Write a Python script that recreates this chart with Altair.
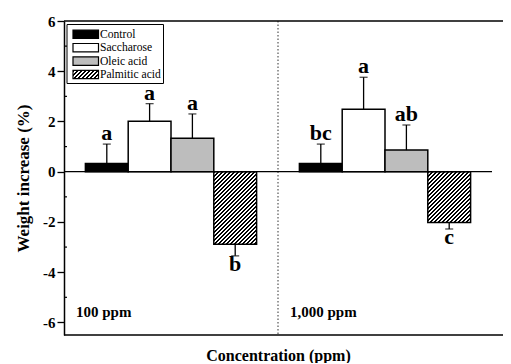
import altair as alt
import pandas as pd

# ---- data ----
concs = ["100 ppm", "1,000 ppm"]
treatments = ["Control", "Saccharose", "Oleic acid", "Palmitic acid"]
values_100 = [0.33, 2.01, 1.33, -2.89]
errors_100 = [0.77, 0.70, 0.97, 0.46]
letters_100 = ["a", "a", "a", "b"]
values_1000 = [0.33, 2.49, 0.86, -2.02]
errors_1000 = [0.77, 1.27, 1.00, 0.26]
letters_1000 = ["bc", "a", "ab", "c"]
y_ticks = [-6, -4, -2, 0, 2, 4, 6]
y_minor = [-5, -3, -1, 1, 3, 5]

rows = []
for conc, vals, errs, lets in [(concs[0], values_100, errors_100, letters_100),
                               (concs[1], values_1000, errors_1000, letters_1000)]:
    for t, v, e, l in zip(treatments, vals, errs, lets):
        rows.append({"conc": conc, "treatment": t, "value": v,
                     "end": v + (e if v >= 0 else -e), "letter": l})
df = pd.DataFrame(rows)

W, H = 428, 314
YDOM = [-6.5, 6]
PX = H / (YDOM[1] - YDOM[0])
FONT = "Liberation Serif"


def hatch(w, h, period=4.0, frac=0.45):
    """45-degree '/' stripes as a sharp-stop linear gradient over a w x h box."""
    k = (w + h) / (w * w + h * h)
    dt = period / (w + h)
    stops = []
    t = 0.0
    while t < 1.0:
        b = min(1.0, t + frac * dt)
        c = min(1.0, t + dt)
        stops += [alt.GradientStop(offset=t, color="black"),
                  alt.GradientStop(offset=b, color="black"),
                  alt.GradientStop(offset=b, color="white"),
                  alt.GradientStop(offset=c, color="white")]
        t += dt
    return alt.LinearGradient(gradient="linear", stops=stops,
                              x1=0, y1=0, x2=w * k, y2=h * k)


xscale = alt.Scale(domain=concs, paddingInner=0, paddingOuter=0)
xoff_scale = alt.Scale(domain=treatments, paddingInner=0, paddingOuter=0.5)
yscale = alt.Scale(domain=YDOM, nice=False, zero=False)
xaxis = alt.Axis(title="Concentration (ppm)", labels=False, ticks=False, domain=False,
                 titleFont=FONT, titleFontSize=16, titleFontWeight="bold",
                 titleColor="black", titlePadding=12)
yaxis = alt.Axis(title="Weight increase (%)", values=y_ticks, labelExpr="'' + datum.value",
                 grid=False, titleFont=FONT, titleFontSize=17, titleFontWeight="bold",
                 titleColor="black", labelFont=FONT, labelFontSize=15,
                 labelFontWeight="bold", labelColor="black", tickSize=7, tickWidth=1.3,
                 tickColor="black", domainColor="black", domainWidth=1.5,
                 labelPadding=2, titlePadding=10)

X = alt.X("conc:N", scale=xscale, axis=xaxis)
XO = alt.XOffset("treatment:N", scale=xoff_scale)

base = alt.Chart(df)

divider = alt.Chart(pd.DataFrame({"conc": [concs[1]]})).mark_rule(
    color="#333333", strokeWidth=1, strokeDash=[1.5, 2]
).encode(x=alt.X("conc:N", scale=xscale, axis=xaxis, bandPosition=0))

bars = base.transform_filter(alt.datum.treatment != treatments[3]).mark_bar(
    stroke="black", strokeWidth=1.5
).encode(
    x=X, xOffset=XO,
    y=alt.Y("value:Q", scale=yscale, axis=yaxis),
    fill=alt.Fill("treatment:N", scale=alt.Scale(domain=treatments,
                  range=["black", "white", "#bdbdbd", "white"]), legend=None),
)

step = W / 2 / 5
hatch_layers = []
for conc, vals in [(concs[0], values_100), (concs[1], values_1000)]:
    v = vals[3]
    g = hatch(step, abs(v) * PX)
    hatch_layers.append(
        base.transform_filter((alt.datum.treatment == treatments[3]) & (alt.datum.conc == conc))
        .mark_bar(fill=g, stroke="black", strokeWidth=1.5)
        .encode(x=X, xOffset=XO, y=alt.Y("value:Q", scale=yscale, axis=yaxis))
    )

zero = alt.Chart(pd.DataFrame({"z": [0]})).mark_rule(color="black", strokeWidth=1.3).encode(
    y=alt.Y("z:Q", scale=yscale, axis=yaxis))

err = base.mark_rule(color="black", strokeWidth=1.3).encode(
    x=X, xOffset=XO, y=alt.Y("value:Q", scale=yscale, axis=yaxis), y2="end:Q")
caps = base.mark_tick(color="black", size=8, thickness=1.3).encode(
    x=X, xOffset=XO, y=alt.Y("end:Q", scale=yscale, axis=yaxis))

txt_pos = base.transform_filter(alt.datum.value >= 0).mark_text(
    font=FONT, fontSize=22, fontWeight="bold", color="black", baseline="alphabetic", dy=-4
).encode(x=X, xOffset=XO, y=alt.Y("end:Q", scale=yscale, axis=yaxis), text="letter:N")
txt_neg = base.transform_filter(alt.datum.value < 0).mark_text(
    font=FONT, fontSize=22, fontWeight="bold", color="black", baseline="alphabetic", dy=15
).encode(x=X, xOffset=XO, y=alt.Y("end:Q", scale=yscale, axis=yaxis), text="letter:N")

minor = alt.Chart(pd.DataFrame({"v": y_minor})).mark_rule(color="black", strokeWidth=1.2).encode(
    x=alt.value(0), x2=alt.value(3), y=alt.Y("v:Q", scale=yscale, axis=yaxis))

frame_top = alt.Chart(pd.DataFrame({"a": [0]})).mark_rule(color="black", strokeWidth=1.5).encode(
    x=alt.value(0), x2=alt.value(W + 11), y=alt.value(0))
frame_bot = alt.Chart(pd.DataFrame({"a": [0]})).mark_rule(color="black", strokeWidth=1.5).encode(
    x=alt.value(0), x2=alt.value(W + 11), y=alt.value(H))

group_lbl = alt.Chart(pd.DataFrame({"conc": concs})).mark_text(
    font=FONT, fontSize=15, fontWeight="bold", color="black", align="left",
    baseline="alphabetic", dx=12
).encode(x=alt.X("conc:N", scale=xscale, axis=xaxis, bandPosition=0),
         y=alt.datum(-5.78), text="conc:N")

# legend (drawn by hand so the hatched swatch can be shown)
leg = [alt.Chart(pd.DataFrame({"a": [0]})).mark_rect(
    fill="white", stroke="black", strokeWidth=1
).encode(x=alt.value(3), x2=alt.value(99.5), y=alt.value(3.5), y2=alt.value(62.5))]
fills = ["black", "white", "#bdbdbd", hatch(25.5, 8.4)]
for i, t in enumerate(treatments):
    yc = 13.3 + i * 13.4
    leg.append(alt.Chart(pd.DataFrame({"t": [t]})).mark_rect(
        fill=fills[i], stroke="black", strokeWidth=1.2
    ).encode(x=alt.value(9), x2=alt.value(34.5), y=alt.value(yc - 4.2), y2=alt.value(yc + 4.2)))
    leg.append(alt.Chart(pd.DataFrame({"t": [t]})).mark_text(
        font=FONT, fontSize=11.6, color="black", align="left", baseline="middle"
    ).encode(x=alt.value(36), y=alt.value(yc + 0.5), text="t:N"))

chart = alt.layer(
    divider, bars, *hatch_layers, zero, err, caps, txt_pos, txt_neg, minor,
    frame_top, frame_bot, group_lbl, *leg
).properties(
    width=W, height=H,
    autosize=alt.AutoSizeParams(type="none"),
    padding={"left": 56, "top": 13, "right": 11, "bottom": 28},
).configure_view(stroke=None)

chart.save("out.html", embed_options={"renderer": "svg", "actions": False})
